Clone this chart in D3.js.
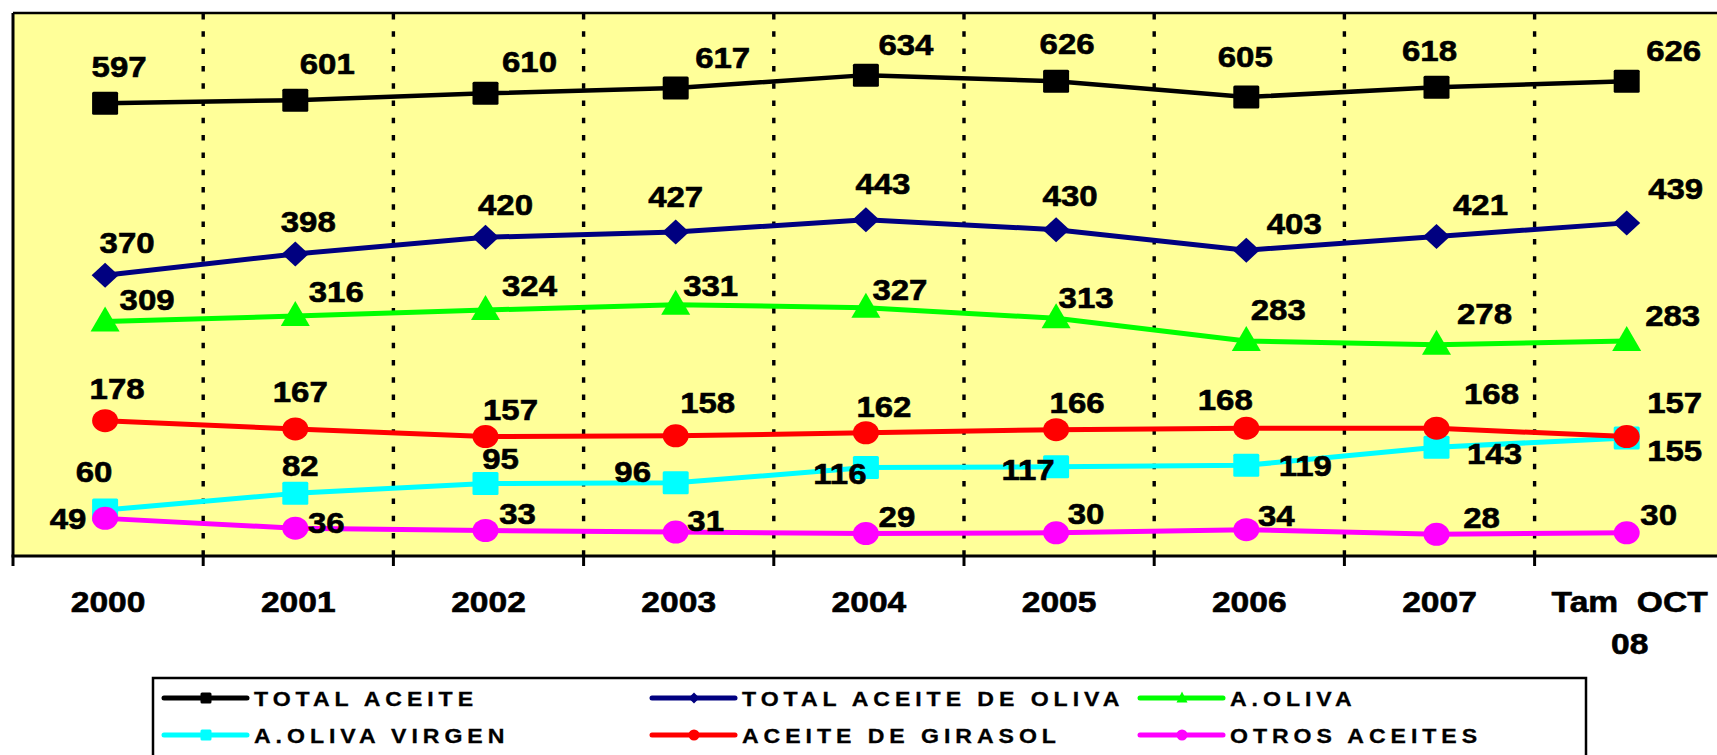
<!DOCTYPE html>
<html>
<head>
<meta charset="utf-8">
<script src="https://cdnjs.cloudflare.com/ajax/libs/d3/7.8.5/d3.min.js"></script>
<style>
  body { margin: 0; background: #ffffff; overflow: hidden; }
  svg { display: block; }
  text { font-family: "Liberation Sans", Arial, sans-serif; font-weight: bold; }
</style>
</head>
<body>
<div id="chart"></div>
<script>
// categories and series values
const categories = ["2000", "2001", "2002", "2003", "2004", "2005", "2006", "2007", "Tam OCT 08"];
const totalAceite = [597, 601, 610, 617, 634, 626, 605, 618, 626];
const totalAceiteOliva = [370, 398, 420, 427, 443, 430, 403, 421, 439];
const aOliva = [309, 316, 324, 331, 327, 313, 283, 278, 283];
const aOlivaVirgen = [60, 82, 95, 96, 116, 117, 119, 143, 155];
const aceiteGirasol = [178, 167, 157, 158, 162, 166, 168, 168, 157];
const otrosAceites = [49, 36, 33, 31, 29, 30, 34, 28, 30];
const seriesNames = ["TOTAL ACEITE", "TOTAL ACEITE DE OLIVA", "A.OLIVA",
    "A.OLIVA VIRGEN", "ACEITE DE GIRASOL", "OTROS ACEITES"];

// look of each series (same order as seriesNames)
const seriesColors = ["#000000", "#000080", "#00ff00", "#00ffff", "#ff0000", "#ff00ff"];
const seriesShapes = ["square", "diamond", "triangle", "square", "circle", "circle"];

// hand placement of the value labels, relative to each point (like the moved labels of the original)
const labelNudge = [
    [[14, -37], [32, -37], [44, -32], [47, -31], [40, -31], [11, -38], [-1, -41], [-7, -37], [47, -31]],
    [[22, -33], [13, -33], [20, -33], [0, -36], [17, -37], [14, -35], [48, -27], [44, -32], [49, -35]],
    [[42, -22], [41, -25], [44, -25], [35, -20], [34, -19], [30, -21], [32, -32], [48, -32], [46, -26]],
    [[-11, -39], [5, -28], [15, -25], [-43, -12], [-26, 6], [-28, 2], [59, 0], [58, 6], [48, 12]],
    [[12, -32], [5, -38], [25, -27], [32, -34], [18, -27], [21, -28], [-21, -29], [55, -35], [48, -34]],
    [[-37, 0], [31, -6], [32, -17], [30, -12], [31, -17], [30, -20], [30, -15], [45, -17], [32, -19]]
];

document.addEventListener('DOMContentLoaded', function () {
    drawChart();
});

// draws a marker shape centred on 0,0
function drawMarker(g, shape, color, w, h) {
    if (shape === "square") {
        g.append("rect").attr("x", -w / 2).attr("y", -h / 2)
            .attr("width", w).attr("height", h).attr("rx", 1.5).attr("fill", color);
    } else if (shape === "circle") {
        g.append("ellipse").attr("rx", w / 2).attr("ry", h / 2).attr("fill", color);
    } else if (shape === "diamond") {
        g.append("path")
            .attr("d", `M0,${-h / 2}L${w / 2},0L0,${h / 2}L${-w / 2},0Z`)
            .attr("fill", color);
    } else if (shape === "triangle") {
        g.append("path")
            .attr("d", `M0,${-h * 0.6}L${w / 2},${h * 0.4}L${-w / 2},${h * 0.4}Z`)
            .attr("fill", color);
    }
}

function drawChart() {
    const width = 1717,
        height = 755;
    const plotLeft = 13,
        plotTop = 13,
        plotBottom = 556,
        bandStep = 190.2;
    const allSeries = [totalAceite, totalAceiteOliva, aOliva, aOlivaVirgen, aceiteGirasol, otrosAceites];

    const svg = d3.select("#chart")
        .append("svg")
        .attr("width", width)
        .attr("height", height);

    // scales
    const x = d3.scaleBand()
        .domain(categories)
        .range([plotLeft, plotLeft + bandStep * categories.length])
        .paddingInner(0)
        .paddingOuter(0);
    const y = d3.scaleLinear()
        .domain([0, 716])
        .range([plotBottom - 0.5, plotTop]);
    // markers sit a touch left of the band centre in the original
    const px = (c) => x(c) + x.bandwidth() / 2 - 3;

    // plot background
    svg.append("rect")
        .attr("x", plotLeft)
        .attr("y", plotTop)
        .attr("width", x.range()[1] - plotLeft)
        .attr("height", plotBottom - plotTop)
        .attr("fill", "#ffff99");

    // dotted vertical gridlines between the categories
    svg.selectAll(".grid")
        .data(categories.slice(1))
        .join("line")
        .attr("class", "grid")
        .attr("x1", d => x(d))
        .attr("x2", d => x(d))
        .attr("y1", plotTop)
        .attr("y2", plotBottom)
        .attr("stroke", "#000")
        .attr("stroke-width", 3.4)
        .attr("stroke-dasharray", "5.5,11.8")
        .attr("stroke-dashoffset", -1);

    // plot frame: top and left
    svg.append("line")
        .attr("x1", plotLeft).attr("x2", width)
        .attr("y1", plotTop).attr("y2", plotTop)
        .attr("stroke", "#000").attr("stroke-width", 2.5);
    svg.append("line")
        .attr("x1", plotLeft).attr("x2", plotLeft)
        .attr("y1", plotTop).attr("y2", plotBottom)
        .attr("stroke", "#000").attr("stroke-width", 3);

    // x axis line and tick marks at the band edges
    svg.append("line")
        .attr("x1", plotLeft - 1.5).attr("x2", width)
        .attr("y1", plotBottom).attr("y2", plotBottom)
        .attr("stroke", "#000").attr("stroke-width", 3);
    svg.selectAll(".tick")
        .data(categories)
        .join("line")
        .attr("class", "tick")
        .attr("x1", d => x(d)).attr("x2", d => x(d))
        .attr("y1", plotBottom).attr("y2", plotBottom + 10)
        .attr("stroke", "#000").attr("stroke-width", 3);

    // category labels (the last one wraps on two lines)
    const xLabels = svg.selectAll(".xlab")
        .data(categories)
        .join("text")
        .attr("class", "xlab")
        .attr("transform", d => `translate(${x(d) + x.bandwidth() / 2},612) scale(1.12,1)`)
        .attr("text-anchor", "middle")
        .style("font-size", "30px")
        .attr("fill", "#000")
        .attr("stroke", "#000")
        .attr("stroke-width", 0.6);
    xLabels.each(function (d) {
        const parts = d.startsWith("Tam") ? ["Tam  OCT", "08"] : [d];
        d3.select(this).selectAll("tspan")
            .data(parts)
            .join("tspan")
            .attr("x", 0)
            .attr("y", (p, i) => i * 42)
            .style("white-space", "pre")
            .text(p => p);
    });

    // lines
    const line = d3.line()
        .x((v, i) => px(categories[i]))
        .y(v => y(v));
    const markerSize = [[26, 23], [27, 25], [29, 25], [26, 23], [26, 23], [26, 23]];
    allSeries.forEach(function (values, s) {
        const g = svg.append("g").attr("class", "series");
        g.append("path")
            .datum(values)
            .attr("d", line)
            .attr("fill", "none")
            .attr("stroke", seriesColors[s])
            .attr("stroke-width", s === 0 ? 4.5 : 5)
            .attr("stroke-linejoin", "round");
        values.forEach(function (v, i) {
            const m = g.append("g")
                .attr("transform", `translate(${px(categories[i])},${y(v)})`);
            drawMarker(m, seriesShapes[s], seriesColors[s], markerSize[s][0], markerSize[s][1]);
        });
    });

    // value labels on top of everything
    allSeries.forEach(function (values, s) {
        svg.append("g")
            .selectAll("text")
            .data(values)
            .join("text")
            .attr("transform", (v, i) => `translate(${px(categories[i]) + labelNudge[s][i][0]},${y(v) + labelNudge[s][i][1]}) scale(1.1,1)`)
            .attr("text-anchor", "middle")
            .attr("dy", "0.36em")
            .style("font-size", "30px")
            .attr("fill", "#000")
            .attr("stroke", "#000")
            .attr("stroke-width", 0.6)
            .text(v => v);
    });

    // legend box with two rows of three entries
    const legend = svg.append("g").attr("class", "legend");
    legend.append("rect")
        .attr("x", 153)
        .attr("y", 678)
        .attr("width", 1433)
        .attr("height", 120)
        .attr("fill", "#fff")
        .attr("stroke", "#000")
        .attr("stroke-width", 2.5);
    const colX = [164, 652, 1140],
        rowY = [698, 735];
    seriesNames.forEach(function (name, s) {
        const lx = colX[s % 3],
            ly = rowY[Math.floor(s / 3)];
        legend.append("line")
            .attr("x1", lx).attr("x2", lx + 83)
            .attr("y1", ly).attr("y2", ly)
            .attr("stroke", seriesColors[s])
            .attr("stroke-width", 5)
            .attr("stroke-linecap", "round");
        const m = legend.append("g").attr("transform", `translate(${lx + 42},${ly})`);
        drawMarker(m, seriesShapes[s], seriesColors[s], 11, 11);
        legend.append("text")
            .attr("transform", `translate(${lx + 90},${ly}) scale(1.1,1)`)
            .attr("dy", "0.36em")
            .style("font-size", "21px")
            .style("letter-spacing", "4.5px")
            .attr("fill", "#000")
            .attr("stroke", "#000")
            .attr("stroke-width", 0.3)
            .text(name);
    });
}
</script>
</body>
</html>
